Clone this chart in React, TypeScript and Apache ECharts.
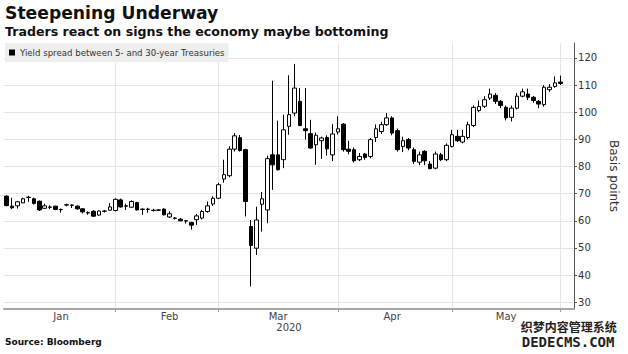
import React, { useEffect, useRef } from "react";
import * as echarts from "echarts";

// Trading days (day of month) per month, 2020
const janDays = [3, 6, 7, 8, 9, 10, 13, 14, 15, 16, 17, 21, 22, 23, 24, 27, 28, 29, 30, 31];
const febDays = [3, 4, 5, 6, 7, 10, 11, 12, 13, 14, 18, 19, 20, 21, 24, 25, 26, 27, 28];
const marDays = [2, 3, 4, 5, 6, 9, 10, 11, 12, 13, 16, 17, 18, 19, 20, 23, 24, 25, 26, 27, 30, 31];
const aprDays = [1, 2, 3, 6, 7, 8, 9, 13, 14, 15, 16, 17, 20, 21, 22, 23, 24, 27, 28, 29, 30];
const mayDays = [1, 4, 5, 6, 7, 8, 11, 12, 13, 14, 15, 18, 19, 20, 21, 22, 26, 27, 28, 29];
const junDays = [1, 2, 3];

const monthLabels = ["Jan", "Feb", "Mar", "Apr", "May"];
const monthLabelIndex = [10, 30, 50, 71, 92];
const yearLabel = "2020";
const yearLabelIndex = 52;

const opens = [
  69.1, 65.4, 65.5, 66.6, 68.6, 68.1, 67.2, 64.6, 65.1, 65.4,
  64.2, 65.8, 65.8, 65.4, 64.4, 63.0, 63.5, 62.1, 63.5, 63.9,
  63.8, 67.7, 65.5, 65.0, 66.7, 64.3, 64.3, 63.9, 64.0, 64.3,
  61.4, 61.0, 60.6, 60.0, 59.4, 60.4, 61.0, 63.4, 66.2, 68.3,
  75.4, 76.6, 86.4, 90.6, 86.2, 57.9, 49.9, 66.1, 64.0, 84.3,
  84.3, 82.5, 94.8, 99.7, 104.0, 93.9, 92.1, 88.0, 89.5, 90.7,
  84.3, 92.7, 95.6, 86.4, 86.2, 82.5, 84.6, 83.7, 90.7, 92.9,
  95.4, 97.9, 93.2, 87.4, 89.9, 86.2, 81.6, 85.6, 80.9, 79.4,
  84.3, 82.5, 87.4, 91.1, 89.0, 90.7, 95.1, 100.6, 102.2, 105.2,
  106.2, 104.0, 101.8, 98.1, 101.5, 105.9, 106.7, 105.5, 104.0, 102.8,
  108.3, 109.5, 111.1,
];
const closes = [
  65.6, 64.8, 67.0, 68.1, 68.7, 66.4, 64.0, 65.5, 65.0, 64.2,
  64.1, 65.9, 65.7, 64.4, 63.3, 62.9, 61.7, 63.6, 63.6, 65.1,
  67.9, 65.1, 65.4, 67.1, 64.0, 64.2, 64.2, 63.8, 63.9, 62.2,
  62.6, 60.9, 60.0, 59.9, 58.4, 61.8, 63.4, 65.5, 68.3, 73.3,
  77.0, 86.4, 91.3, 85.9, 67.1, 50.9, 60.3, 68.1, 82.9, 80.6,
  78.8, 93.5, 99.1, 108.9, 95.1, 93.2, 86.8, 91.5, 90.5, 86.5,
  92.0, 93.9, 86.2, 85.6, 82.1, 83.7, 83.3, 89.9, 93.9, 95.4,
  97.9, 92.3, 86.2, 89.5, 86.8, 81.9, 84.3, 82.1, 79.2, 84.6,
  82.5, 87.8, 91.7, 89.5, 91.1, 95.4, 101.8, 102.1, 104.6, 106.7,
  104.0, 102.5, 97.9, 101.5, 105.9, 107.5, 105.5, 104.3, 103.0, 109.2,
  109.2, 110.8, 110.6,
];
const lows = [
  65.3, 64.3, 64.5, 66.5, 67.0, 66.0, 63.6, 64.3, 64.3, 63.9,
  63.0, 65.3, 64.7, 64.1, 62.7, 62.2, 61.5, 61.9, 63.0, 63.7,
  63.5, 64.8, 64.0, 64.8, 63.8, 62.2, 63.0, 63.4, 63.6, 62.0,
  61.0, 60.5, 59.8, 59.0, 56.7, 58.5, 60.5, 63.0, 65.5, 68.0,
  74.0, 76.0, 85.5, 85.5, 61.6, 35.8, 47.4, 56.0, 59.1, 71.4,
  78.5, 79.4, 91.7, 98.5, 94.8, 89.9, 86.5, 80.6, 82.8, 84.0,
  82.0, 91.8, 85.5, 84.5, 81.5, 82.0, 82.5, 83.0, 89.0, 92.0,
  95.0, 91.5, 85.5, 85.3, 86.0, 81.0, 80.5, 80.5, 79.0, 79.0,
  82.0, 82.0, 87.0, 89.0, 88.5, 90.0, 94.5, 100.0, 101.5, 104.5,
  103.0, 101.5, 97.0, 96.6, 101.0, 105.5, 104.5, 103.5, 101.5, 102.0,
  107.5, 109.0, 110.0,
];
const highs = [
  69.4, 68.5, 67.3, 68.5, 69.2, 68.5, 67.5, 66.3, 65.7, 65.5,
  64.5, 66.3, 66.0, 65.7, 64.7, 63.5, 63.9, 63.8, 64.0, 66.5,
  68.3, 68.2, 66.3, 67.5, 67.0, 64.5, 64.8, 64.4, 64.3, 64.6,
  63.5, 61.4, 61.0, 60.3, 59.6, 62.5, 64.0, 67.1, 69.0, 74.0,
  82.5, 87.5, 92.3, 91.6, 86.5, 60.3, 65.2, 70.6, 84.0, 111.6,
  96.9, 99.1, 113.6, 117.8, 108.9, 108.9, 97.2, 92.5, 91.0, 91.5,
  95.6, 98.5, 96.0, 89.5, 87.0, 85.0, 85.0, 90.5, 95.5, 96.5,
  99.7, 98.5, 94.0, 91.0, 90.5, 87.0, 85.5, 86.0, 82.0, 85.5,
  85.0, 88.5, 93.5, 93.5, 93.5, 96.5, 102.5, 104.3, 105.9, 108.7,
  107.0, 104.5, 102.5, 102.5, 107.0, 108.7, 108.7, 106.0, 104.5, 110.0,
  110.4, 113.2, 113.5,
];

const seriesName = "Yield spread between 5- and 30-year Treasuries";
const title = "Steepening Underway";
const subtitle = "Traders react on signs the economy maybe bottoming";
const source = "Source: Bloomberg";

const pad = (n: number) => (n < 10 ? "0" + n : "" + n);
const monthBlocks: [number, number[]][] = [
  [1, janDays], [2, febDays], [3, marDays], [4, aprDays], [5, mayDays], [6, junDays],
];
const dates: string[] = [];
const monthOf: number[] = [];
monthBlocks.forEach(([m, days]) => {
  days.forEach((d) => {
    dates.push(`2020-${pad(m)}-${pad(d)}`);
    monthOf.push(m);
  });
});
const monthStartIdx = new Set<number>();
monthOf.forEach((m, i) => {
  if (i > 0 && m !== monthOf[i - 1]) monthStartIdx.add(i);
});

const candleData = opens.map((o, i) => [o, closes[i], lows[i], highs[i]]);

const FONT = "DejaVu Sans";

export default function App() {
  const ref = useRef<HTMLDivElement>(null);
  useEffect(() => {
    if (!ref.current) return;
    const chart = echarts.init(ref.current, null, { renderer: "svg" });
    chart.setOption({
      animation: false,
      backgroundColor: "#ffffff",
      title: [
        {
          text: title, left: 5, top: 4, padding: 0,
          textStyle: { fontFamily: FONT, fontWeight: "bold", fontSize: 17.2, color: "#111" },
        },
        {
          text: subtitle, left: 5, top: 25, padding: 0,
          textStyle: { fontFamily: FONT, fontWeight: "bold", fontSize: 12.6, color: "#111" },
        },
        {
          text: source, left: 5, top: 337, padding: 0,
          textStyle: { fontFamily: FONT, fontWeight: "bold", fontSize: 9, color: "#111" },
        },
      ],
      legend: {
        left: 5, top: 43, padding: [5, 4, 5, 4], backgroundColor: "#eeeeee",
        itemWidth: 6, itemHeight: 6, itemGap: 0,
        textStyle: { fontFamily: FONT, fontSize: 8.6, color: "#333" },
        data: [{ name: seriesName, icon: "rect", itemStyle: { color: "#000", borderWidth: 0 } }],
      },
      grid: { left: 4, right: 43, top: 43, bottom: 45 },
      xAxis: [
        {
          type: "category", data: dates, boundaryGap: true,
          axisLine: { lineStyle: { color: "#a8a8a8", width: 2 } },
          axisTick: {
            show: true, alignWithLabel: true, length: 3,
            interval: (i: number) => monthStartIdx.has(i),
            lineStyle: { color: "#999" },
          },
          axisLabel: {
            interval: (i: number) => monthLabelIndex.includes(i),
            formatter: (_v: string, i: number) => {
              const k = monthLabelIndex.indexOf(i);
              return k >= 0 ? monthLabels[k] : "";
            },
            margin: 2, lineHeight: 10, fontFamily: FONT, fontSize: 10, color: "#444",
          },
          splitLine: {
            show: true, alignWithLabel: true,
            interval: (i: number) => monthStartIdx.has(i),
            lineStyle: { color: "#e6e6e6", width: 1 },
          },
        },
        {
          type: "category", data: dates, boundaryGap: true, position: "bottom",
          axisLine: { show: false }, axisTick: { show: false }, splitLine: { show: false },
          axisLabel: {
            interval: (i: number) => i === yearLabelIndex,
            formatter: () => yearLabel,
            margin: 13, lineHeight: 10, fontFamily: FONT, fontSize: 10, color: "#444",
          },
        },
      ],
      yAxis: {
        type: "value", position: "right", min: 27.5, max: 125.5,
        splitNumber: 10, minInterval: 10, maxInterval: 10,
        axisLine: { show: true, lineStyle: { color: "#555" } },
        axisTick: { show: true, length: 3, lineStyle: { color: "#555" } },
        axisLabel: {
          margin: 4, fontFamily: FONT, fontSize: 10, color: "#333",
          showMinLabel: false, showMaxLabel: false,
        },
        splitLine: { show: true, showMinLine: false, showMaxLine: false, lineStyle: { color: "#e6e6e6" } },
        name: "Basis points", nameLocation: "middle", nameRotate: -90, nameGap: 25,
        nameTextStyle: { fontFamily: FONT, fontSize: 12, color: "#333" },
      },
      series: [
        {
          name: seriesName, type: "candlestick", data: candleData, barWidth: 4,
          itemStyle: { color: "#ffffff", color0: "#000000", borderColor: "#000000", borderColor0: "#000000", borderWidth: 1 },
        },
      ],
      graphic: [
        {
          type: "text", left: 520, top: 320,
          style: {
            text: "织梦内容管理系统", font: "bold 12px 'Noto Sans CJK SC'",
            fill: "#222", stroke: "#fff", lineWidth: 1.5,
          },
        },
        {
          type: "text", left: 521, top: 334,
          style: {
            text: "DEDECMS.COM", font: "bold 14px 'DejaVu Sans Mono'",
            fill: "#222", stroke: "#fff", lineWidth: 1.5,
          },
        },
      ],
    });
    return () => chart.dispose();
  }, []);
  return (
    <div
      ref={ref}
      style={{ position: "fixed", left: 0, top: 0, width: 628, height: 354, background: "#fff" }}
    />
  );
}
